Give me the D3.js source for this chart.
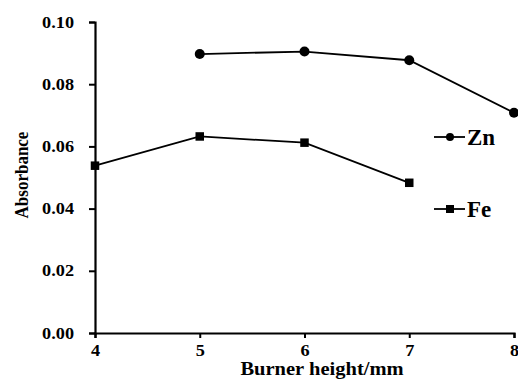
<!DOCTYPE html>
<html>
<head>
<meta charset="utf-8">
<script src="https://cdn.jsdelivr.net/npm/d3@7"></script>
<style>
  body { margin: 0; background: #fff; }
  svg { display: block; }
</style>
</head>
<body>
<div id="chart"></div>
<script>
// data
var heights = [4, 5, 6, 7, 8];
var znHeights = [5, 6, 7, 8];
var znValues = [0.0897, 0.0905, 0.0877, 0.0708];
var feHeights = [4, 5, 6, 7];
var feValues = [0.0538, 0.0632, 0.0612, 0.0483];
var yTicks = [0, 0.02, 0.04, 0.06, 0.08, 0.10];
var seriesNames = ["Zn", "Fe"];

var width = 518, height = 387;
var stretch = 1.14; // text in the picture is a bit wider than normal
var font = "'Liberation Serif', 'Times New Roman', 'DejaVu Serif', serif";

var svg = d3.select("#chart").append("svg")
  .attr("width", width).attr("height", height)
  .style("font-family", font).style("font-weight", "bold");

var x = d3.scaleLinear().domain([4, 8]).range([95, 514]);
var y = d3.scaleLinear().domain([0, 0.1]).range([333, 22]);

function widen(sel) {
  sel.each(function () {
    var len = this.getComputedTextLength();
    d3.select(this).attr("textLength", len * stretch).attr("lengthAdjust", "spacingAndGlyphs");
  });
}

// x axis
var gx = svg.append("g").attr("transform", "translate(0," + y(0) + ")")
  .call(d3.axisBottom(x).tickValues(heights).tickFormat(d3.format("d")).tickSizeOuter(0).tickSize(5).tickPadding(7));
// y axis
var gy = svg.append("g").attr("transform", "translate(" + x(4) + ",0)")
  .call(d3.axisLeft(y).tickValues(yTicks).tickFormat(d3.format(".2f")).tickSizeOuter(0).tickSize(6).tickPadding(15));

[gx, gy].forEach(function (g) {
  g.attr("font-family", null).attr("font-size", null);
  g.select(".domain").attr("stroke", "#000").attr("stroke-width", 2.2);
  g.selectAll(".tick line").attr("stroke", "#000").attr("stroke-width", 2);
  g.selectAll(".tick text").attr("fill", "#000")
    .style("font-family", font).style("font-weight", "bold").style("font-size", "16px");
});
gx.selectAll(".tick text").call(widen);
gy.selectAll(".tick text").call(widen);

// lines
var line = d3.line().x(function (d) { return x(d[0]); }).y(function (d) { return y(d[1]); });
var zn = d3.zip(znHeights, znValues);
var fe = d3.zip(feHeights, feValues);

svg.append("path").datum(zn).attr("d", line)
  .attr("fill", "none").attr("stroke", "#000").attr("stroke-width", 1.8);
svg.append("path").datum(fe).attr("d", line)
  .attr("fill", "none").attr("stroke", "#000").attr("stroke-width", 1.8);

svg.selectAll(".zn").data(zn).enter().append("circle")
  .attr("cx", function (d) { return x(d[0]); })
  .attr("cy", function (d) { return y(d[1]); })
  .attr("r", 5).attr("fill", "#000");
svg.selectAll(".fe").data(fe).enter().append("rect")
  .attr("x", function (d) { return x(d[0]) - 4.25; })
  .attr("y", function (d) { return y(d[1]) - 4.25; })
  .attr("width", 8.5).attr("height", 8.5).attr("fill", "#000");

// axis titles
svg.append("text")
  .attr("x", 322).attr("y", 375)
  .attr("text-anchor", "middle")
  .style("font-size", "18px")
  .text("Burner height/mm")
  .call(widen);

svg.append("text")
  .attr("transform", "translate(28,175) scale(1.12,1) rotate(-90)")
  .attr("text-anchor", "middle")
  .style("font-size", "17px")
  .text("Absorbance");

// legend
var legY = [137, 209];
var leg = svg.append("g");
leg.append("line").attr("x1", 434).attr("x2", 465).attr("y1", legY[0]).attr("y2", legY[0])
  .attr("stroke", "#000").attr("stroke-width", 1.8);
leg.append("circle").attr("cx", 450).attr("cy", legY[0]).attr("r", 4).attr("fill", "#000");
leg.append("line").attr("x1", 434).attr("x2", 465).attr("y1", legY[1]).attr("y2", legY[1])
  .attr("stroke", "#000").attr("stroke-width", 1.8);
leg.append("rect").attr("x", 446).attr("y", legY[1] - 4).attr("width", 8).attr("height", 8).attr("fill", "#000");
leg.selectAll(".lab").data(seriesNames).enter().append("text")
  .attr("x", 467).attr("y", function (d, i) { return legY[i] + 8; })
  .style("font-size", "23px")
  .text(function (d) { return d; });
</script>
</body>
</html>
